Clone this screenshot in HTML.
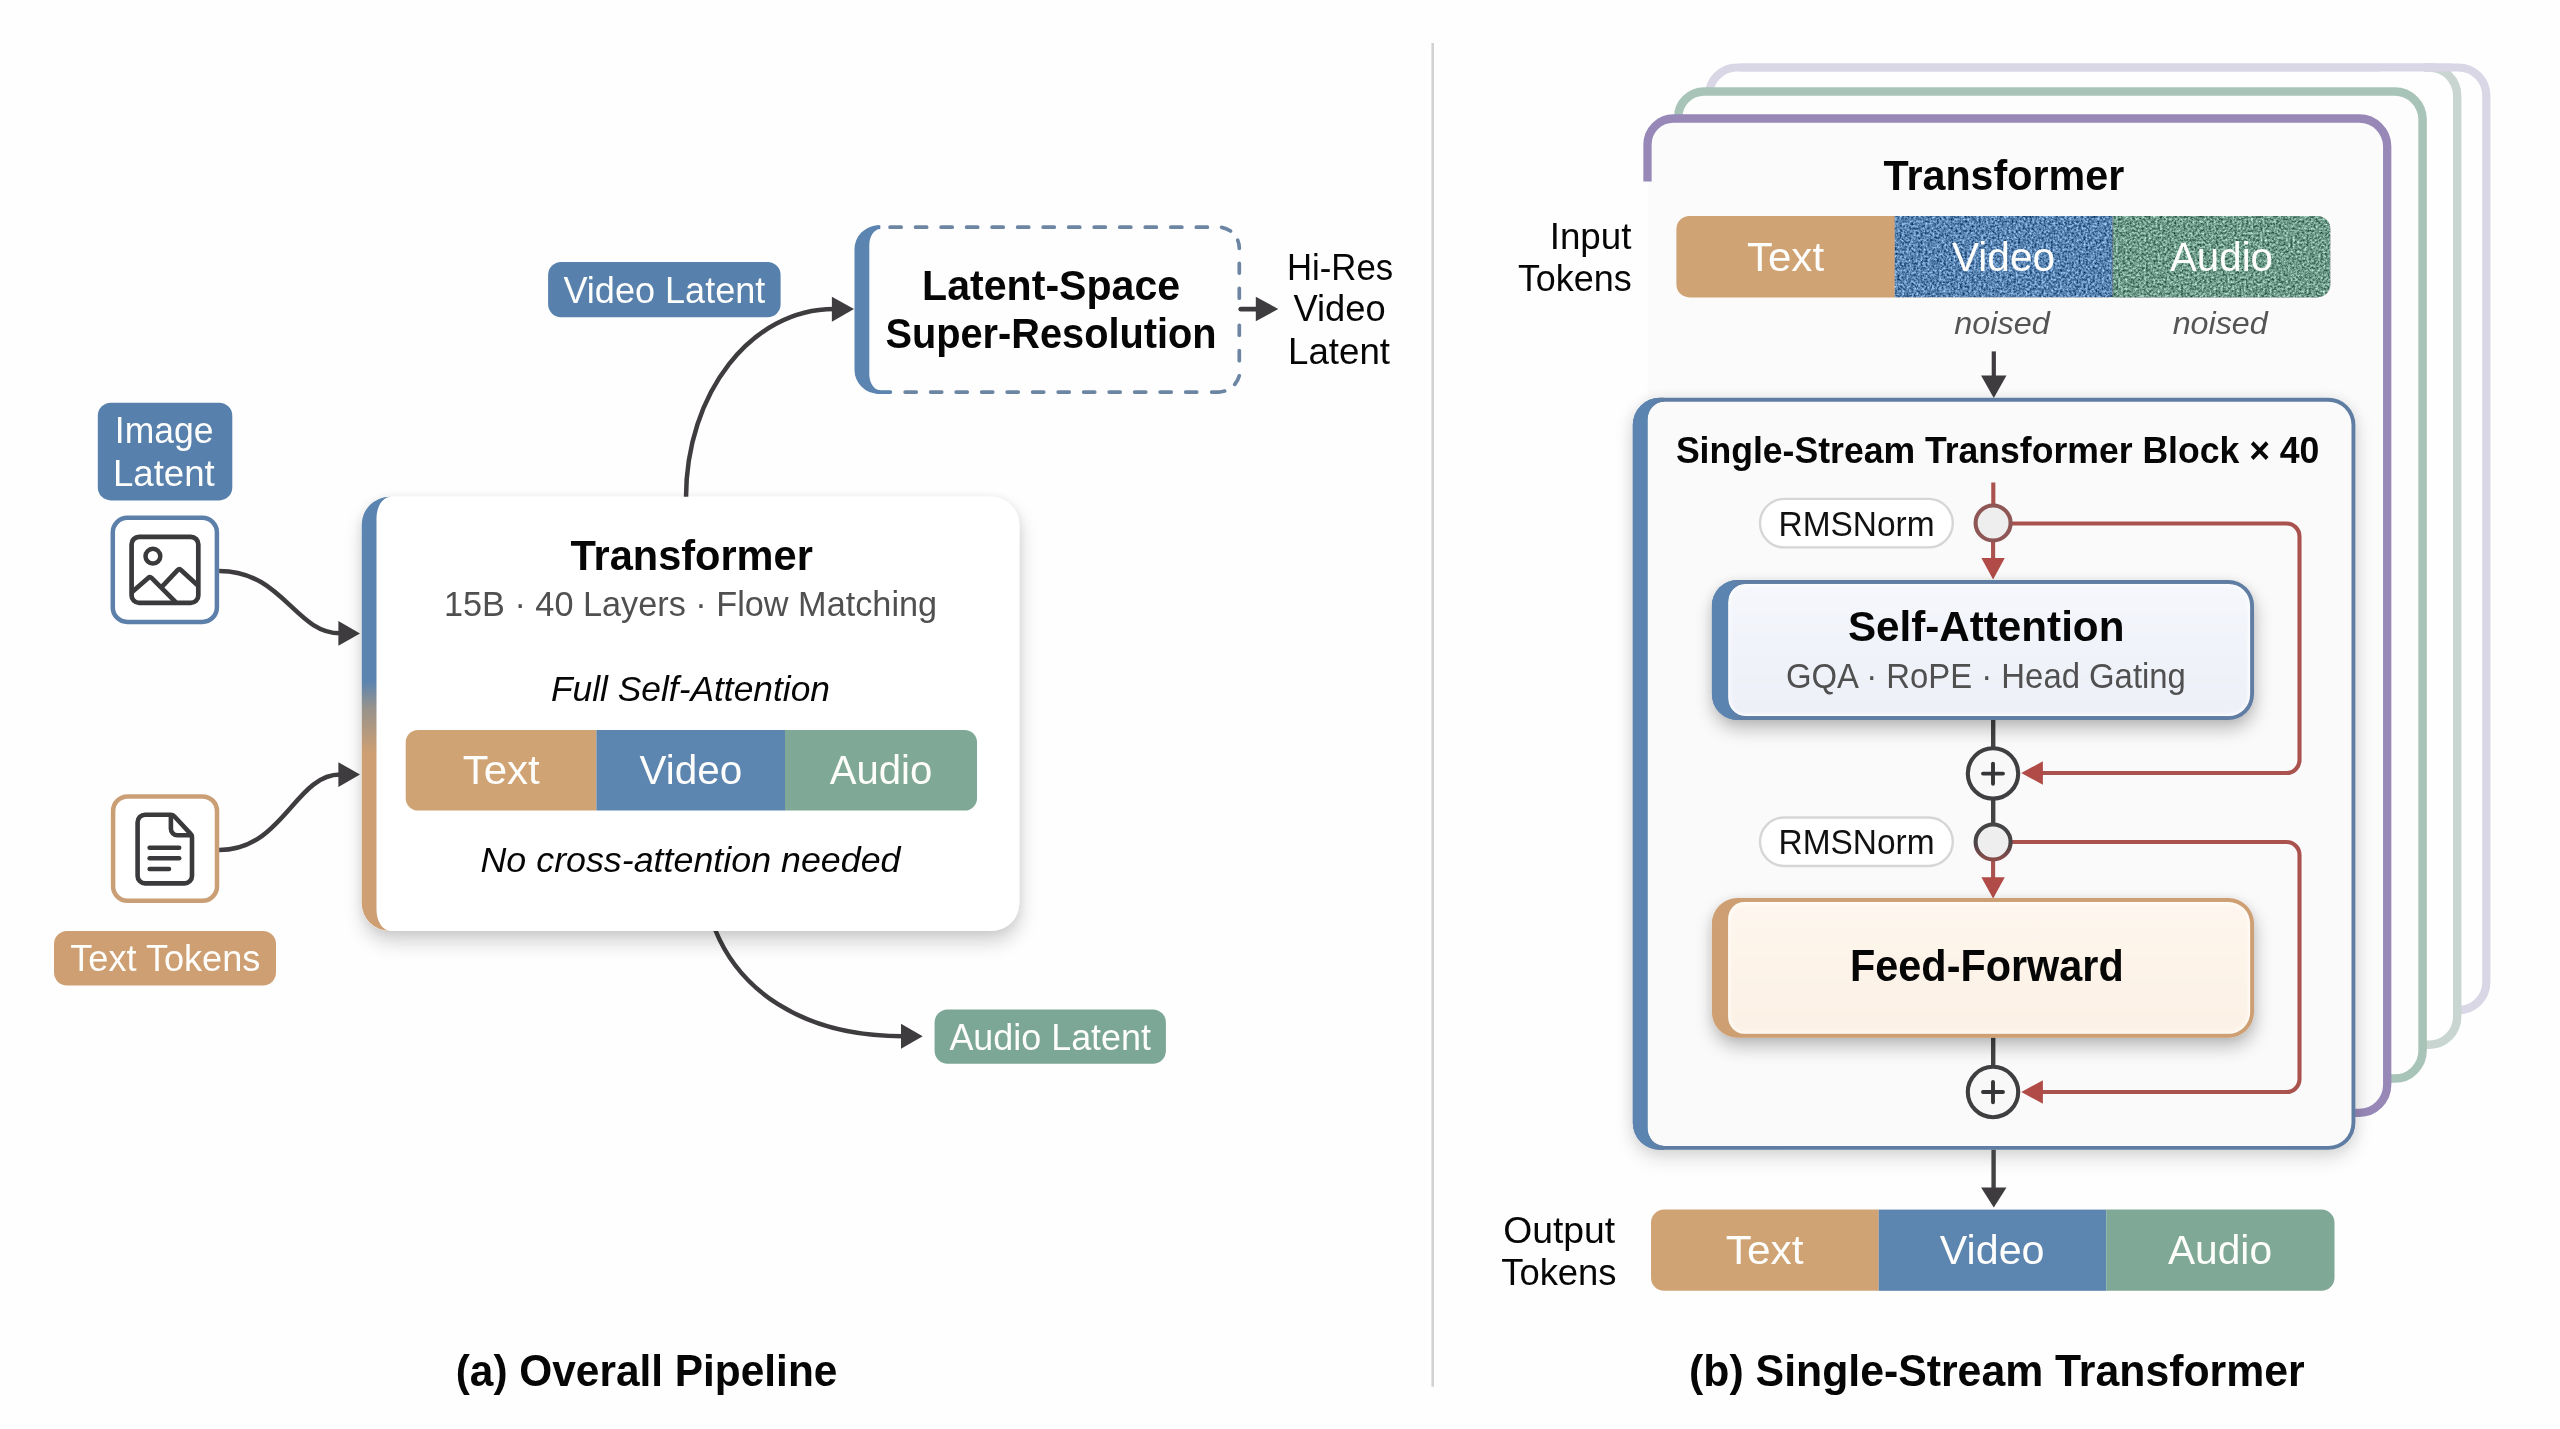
<!DOCTYPE html>
<html lang="en">
<head>
<meta charset="utf-8">
<title>Pipeline and Single-Stream Transformer</title>
<style>
html,body{margin:0;padding:0;background:#fefefe;}
body{width:2560px;height:1429px;overflow:hidden;font-family:"Liberation Sans",sans-serif;}
svg{display:block;position:absolute;left:0;top:0;will-change:transform;}
text{font-family:"Liberation Sans",sans-serif;}
.b{font-weight:bold;}
.i{font-style:italic;}
.w{fill:#fdfdfc;}
.m{text-anchor:middle;}
.e{text-anchor:end;}
</style>
</head>
<body>
<svg width="2560" height="1429" viewBox="0 0 2560 1429">
<defs>
  <linearGradient id="gStrip" x1="0" y1="0" x2="0" y2="1">
    <stop offset="0" stop-color="#5b84b0"/>
    <stop offset="0.425" stop-color="#5b84b0"/>
    <stop offset="0.485" stop-color="#96928d"/>
    <stop offset="0.59" stop-color="#cd9f72"/>
    <stop offset="1" stop-color="#cd9f72"/>
  </linearGradient>
  <linearGradient id="gSA" x1="0" y1="0" x2="0" y2="1">
    <stop offset="0" stop-color="#f6f8fc"/>
    <stop offset="0.3" stop-color="#f2f4fa"/>
    <stop offset="1" stop-color="#edf0f8"/>
  </linearGradient>
  <linearGradient id="gFF" x1="0" y1="0" x2="0" y2="1">
    <stop offset="0" stop-color="#fef7ef"/>
    <stop offset="0.3" stop-color="#fdf4ea"/>
    <stop offset="1" stop-color="#fcf1e5"/>
  </linearGradient>
  <linearGradient id="gStripB" x1="0" y1="0" x2="1" y2="0">
    <stop offset="0" stop-color="#5b84b0"/>
    <stop offset="0.5" stop-color="#5b84b0"/>
    <stop offset="1" stop-color="#5f7da3"/>
  </linearGradient>
  <linearGradient id="gCirc" x1="0" y1="0" x2="0" y2="1">
    <stop offset="0" stop-color="#444446"/>
    <stop offset="0.55" stop-color="#4a4446"/>
    <stop offset="1" stop-color="#8a4d4b"/>
  </linearGradient>
  <filter id="shCard" x="-20%" y="-20%" width="140%" height="150%">
    <feGaussianBlur in="SourceAlpha" stdDeviation="9.5"/>
    <feOffset dx="1" dy="11"/>
    <feComponentTransfer result="s1"><feFuncA type="linear" slope="0.18"/></feComponentTransfer>
    <feGaussianBlur in="SourceAlpha" stdDeviation="5"/>
    <feOffset dx="0" dy="1"/>
    <feComponentTransfer result="s2"><feFuncA type="linear" slope="0.07"/></feComponentTransfer>
    <feMerge><feMergeNode in="s2"/><feMergeNode in="s1"/><feMergeNode in="SourceGraphic"/></feMerge>
  </filter>
  <filter id="shBlock" x="-20%" y="-20%" width="140%" height="150%">
    <feGaussianBlur in="SourceAlpha" stdDeviation="10"/>
    <feOffset dx="0" dy="8"/>
    <feComponentTransfer result="s1"><feFuncA type="linear" slope="0.14"/></feComponentTransfer>
    <feGaussianBlur in="SourceAlpha" stdDeviation="7"/>
    <feOffset dx="0" dy="1"/>
    <feComponentTransfer result="s2"><feFuncA type="linear" slope="0.075"/></feComponentTransfer>
    <feMerge><feMergeNode in="s2"/><feMergeNode in="s1"/><feMergeNode in="SourceGraphic"/></feMerge>
  </filter>
  <filter id="shBox" x="-20%" y="-30%" width="140%" height="190%">
    <feGaussianBlur in="SourceAlpha" stdDeviation="9"/>
    <feOffset dx="1" dy="9"/>
    <feComponentTransfer result="s1"><feFuncA type="linear" slope="0.25"/></feComponentTransfer>
    <feGaussianBlur in="SourceAlpha" stdDeviation="5"/>
    <feOffset dx="0" dy="1"/>
    <feComponentTransfer result="s2"><feFuncA type="linear" slope="0.07"/></feComponentTransfer>
    <feMerge><feMergeNode in="s2"/><feMergeNode in="s1"/><feMergeNode in="SourceGraphic"/></feMerge>
  </filter>
  <filter id="noiseB" x="0" y="0" width="100%" height="100%" color-interpolation-filters="sRGB">
    <feTurbulence type="fractalNoise" baseFrequency="0.43" numOctaves="3" seed="3" result="n"/>
    <feColorMatrix in="n" type="matrix" values="1.35 0 0 0 -0.175  1.35 0 0 0 -0.175  1.35 0 0 0 -0.175  0 0 0 0 1" result="g"/>
    <feGaussianBlur in="g" stdDeviation="0.55" result="g2"/>
    <feComposite in="SourceGraphic" in2="g2" operator="arithmetic" k1="0" k2="1" k3="0.7" k4="-0.35" result="r"/>
    <feComposite in="r" in2="SourceGraphic" operator="in"/>
  </filter>
  <filter id="noiseG" x="0" y="0" width="100%" height="100%" color-interpolation-filters="sRGB">
    <feTurbulence type="fractalNoise" baseFrequency="0.43" numOctaves="3" seed="11" result="n"/>
    <feColorMatrix in="n" type="matrix" values="1.35 0 0 0 -0.175  1.35 0 0 0 -0.175  1.35 0 0 0 -0.175  0 0 0 0 1" result="g"/>
    <feGaussianBlur in="g" stdDeviation="0.55" result="g2"/>
    <feComposite in="SourceGraphic" in2="g2" operator="arithmetic" k1="0" k2="1" k3="0.7" k4="-0.35" result="r"/>
    <feComposite in="r" in2="SourceGraphic" operator="in"/>
  </filter>
  <filter id="soft" x="-5%" y="-10%" width="110%" height="120%"><feGaussianBlur stdDeviation="1.7"/></filter>
</defs>
<rect x="0" y="0" width="2560" height="1429" fill="#fefefe"/>
<rect x="1431.4" y="43" width="2.6" height="1343.7" fill="#d2d2d2"/>
<g id="left">
<rect x="97.8" y="402.8" width="134.5" height="97.6" rx="13" fill="#5781ac"/>
<text x="164.15" y="442.9" font-size="37.21" class="w m" textLength="98.66" lengthAdjust="spacingAndGlyphs">Image</text>
<text x="163.85" y="485.5" font-size="37.21" class="w m" textLength="101.86" lengthAdjust="spacingAndGlyphs">Latent</text>
<rect x="112.8" y="517.8" width="104.1" height="104.1" rx="14.5" fill="#ffffff" stroke="#5c80a9" stroke-width="4.5"/>
<g fill="none" stroke="#3a3a3c" stroke-width="4.7" stroke-linecap="round" stroke-linejoin="round">
  <rect x="131.6" y="536.8" width="66.7" height="66.1" rx="7.5"/>
  <circle cx="152.9" cy="556.2" r="7.4" stroke-width="4.5"/>
  <path d="M132.4 591.8 L148.2 578 Q150 576.4 151.8 578.2 L175.2 601.6"/>
  <path d="M163 585.6 L177.6 570.2 Q179.4 568.4 181.2 570.2 L197.6 585.2"/>
</g>
<rect x="113.1" y="796.4" width="103.9" height="104.4" rx="14.5" fill="#ffffff" stroke="#cb9f76" stroke-width="4.5"/>
<g fill="none" stroke="#3a3a3c" stroke-width="4.6" stroke-linecap="round" stroke-linejoin="round">
  <path d="M145.1 814.8 H170.6 Q172.9 814.8 174.5 816.5 L190.4 833.6 Q192 835.3 192 837.6 V875.9 a7.5 7.5 0 0 1 -7.5 7.5 H145.1 a7.5 7.5 0 0 1 -7.5 -7.5 V822.3 a7.5 7.5 0 0 1 7.5 -7.5 Z"/>
  <path d="M170.9 815.6 V828.8 a6.5 6.5 0 0 0 6.5 6.5 H191.4"/>
  <path d="M149.6 847.8 H179.2" stroke-width="4.5"/>
  <path d="M149.6 858.3 H179.2" stroke-width="4.5"/>
  <path d="M149.6 868.9 H169" stroke-width="4.5"/>
</g>
<rect x="54" y="931" width="222" height="54.6" rx="13" fill="#cd9f72"/>
<text x="165.3" y="971" font-size="37.21" class="w m" textLength="190.16" lengthAdjust="spacingAndGlyphs">Text Tokens</text>
<g fill="none" stroke="#3e3c3e" stroke-width="4.5">
  <path d="M219.2 571 C 283 571 295 633.3 340.2 633.3"/>
  <path d="M219.2 850 C 283 850 295 774.6 340.2 774.6"/>
  <path d="M686 498 C 686 393.2 751.4 309 834 309"/>
  <path d="M715.3 930 C 738.1 986.2 797 1036.2 903 1036.2"/>
  <path d="M1240.8 309.2 H1258" stroke-linecap="round" stroke-width="4.8"/>
</g>
<g fill="#3e3c3e">
  <path d="M338.4 621 L360 633.4 L338.4 645.8 Z"/>
  <path d="M338.4 762.2 L360 774.6 L338.4 787 Z"/>
  <path d="M831.9 296.8 L854 309 L831.9 321.8 Z"/>
  <path d="M901 1023.8 L922.7 1036.2 L901 1048.8 Z"/>
  <path d="M1255.8 296.7 L1278.3 309 L1255.8 321.3 Z"/>
</g>
<g filter="url(#shCard)">
<path d="M389.7 496.8 H991.3 A28 28 0 0 1 1019.3 524.8 V903 A28 28 0 0 1 991.3 931 H389.7 A28 28 0 0 1 361.7 903 V524.8 A28 28 0 0 1 389.7 496.8 Z" fill="#ffffff"/>
</g>
<path d="M390.5 496.8 H389.7 A28 28 0 0 0 361.7 524.8 V903 A28 28 0 0 0 389.7 931 H390.5 V931 H390.5 A14 21.5 0 0 1 376.5 909.5 V518.3 A14 21.5 0 0 1 390.5 496.8 H390.5 Z" fill="url(#gStrip)"/>
<text x="691.62" y="570" font-size="42.88" class="b m" fill="#060606" textLength="242.39" lengthAdjust="spacingAndGlyphs">Transformer</text>
<text x="690.55" y="616.25" font-size="35.97" class="m" fill="#505050" textLength="493.16" lengthAdjust="spacingAndGlyphs">15B · 40 Layers · Flow Matching</text>
<text x="690.5" y="701.25" font-size="34.74" class="i m" fill="#060606" textLength="278.95" lengthAdjust="spacingAndGlyphs">Full Self-Attention</text>
<path d="M418 730 H596.4 V810.5 H418 a12.3 12.3 0 0 1 -12.3 -12.3 V742.3 a12.3 12.3 0 0 1 12.3 -12.3 Z" fill="#cfa373"/>
  <rect x="596.4" y="730" width="188.6" height="80.5" fill="#5c85b0"/>
  <path d="M785 730 H964.7 a12.3 12.3 0 0 1 12.3 12.3 V798.2 a12.3 12.3 0 0 1 -12.3 12.3 H785 Z" fill="#80a897"/>
<text x="501.25" y="783.5" font-size="39.97" class="w m" textLength="77.1" lengthAdjust="spacingAndGlyphs">Text</text>
<text x="690.92" y="783.5" font-size="39.97" class="w m" textLength="102.75" lengthAdjust="spacingAndGlyphs">Video</text>
<text x="880.95" y="783.5" font-size="39.97" class="w m" textLength="102.5" lengthAdjust="spacingAndGlyphs">Audio</text>
<text x="690.5" y="872.4" font-size="34.74" class="i m" fill="#060606" textLength="419.95" lengthAdjust="spacingAndGlyphs">No cross-attention needed</text>
<rect x="548.1" y="261.9" width="232.5" height="55.4" rx="13" fill="#5781ac"/>
<text x="664.38" y="302.5" font-size="37.21" class="w m" textLength="201.91" lengthAdjust="spacingAndGlyphs">Video Latent</text>
<path d="M880.3 225.3 H878.5 A24 24 0 0 0 854.5 249.3 V369.9 A24 24 0 0 0 878.5 393.9 H880.3 V390.2 H880.3 A11 16 0 0 1 869.3 374.2 V245 A11 16 0 0 1 880.3 229 H880.3 Z" fill="#5b84b0"/>
<path d="M877.5 227.15 H877.9 M877.5 392.05 H890.4" stroke="#5b84b0" stroke-width="3.7" stroke-linecap="round" fill="none"/>
<path d="M890.05 227.15 h11.1 M915.57 227.15 h11.1 M941.09 227.15 h11.1 M966.61 227.15 h11.1 M992.13 227.15 h11.1 M1017.65 227.15 h11.1 M1043.17 227.15 h11.1 M1068.69 227.15 h11.1 M1094.21 227.15 h11.1 M1119.73 227.15 h11.1 M1145.25 227.15 h11.1 M1170.77 227.15 h11.1 M1196.29 227.15 h11.1 M905.15 392.05 h11.1 M930.65 392.05 h11.1 M956.15 392.05 h11.1 M981.65 392.05 h11.1 M1007.15 392.05 h11.1 M1032.65 392.05 h11.1 M1058.15 392.05 h11.1 M1083.65 392.05 h11.1 M1109.15 392.05 h11.1 M1134.65 392.05 h11.1 M1160.15 392.05 h11.1 M1185.65 392.05 h11.1 M1221.6 227.4 A21 21 0 0 1 1230.5 231 M1237.7 240.1 A21 21 0 0 1 1239.3 248.4 M1239.3 263.45 V273.05 M1239.3 288.45 V298.25 M1239.3 325.25 V335.25 M1239.3 350.55 V360.75 M1239.3 375.8 A21 21 0 0 1 1234.7 384.4 M1211.7 392.05 H1218.3 A21 21 0 0 0 1224.6 391.1" fill="none" stroke="#6c85a3" stroke-width="3.7" stroke-linecap="round"/>
<text x="1051.15" y="299.9" font-size="41.86" class="b m" fill="#060606" textLength="258.06" lengthAdjust="spacingAndGlyphs">Latent-Space</text>
<text x="1051" y="347.7" font-size="41.86" class="b m" fill="#060606" textLength="330.96" lengthAdjust="spacingAndGlyphs">Super-Resolution</text>
<text x="1340.05" y="279.7" font-size="36.34" class="m" fill="#060606" textLength="105.99" lengthAdjust="spacingAndGlyphs">Hi-Res</text>
<text x="1339.55" y="321.4" font-size="36.34" class="m" fill="#060606" textLength="92.19" lengthAdjust="spacingAndGlyphs">Video</text>
<text x="1339.05" y="363.9" font-size="36.34" class="m" fill="#060606" textLength="101.99" lengthAdjust="spacingAndGlyphs">Latent</text>
<rect x="934.6" y="1009.4" width="231.3" height="54.4" rx="13" fill="#7ca696"/>
<text x="1050.2" y="1049.5" font-size="37.21" class="w m" textLength="201.56" lengthAdjust="spacingAndGlyphs">Audio Latent</text>
<text x="646.55" y="1385.8" font-size="44.33" class="b m" fill="#060606" textLength="381.67" lengthAdjust="spacingAndGlyphs">(a) Overall Pipeline</text>
</g>
<g id="right">
<rect x="1709" y="67.5" width="777.3" height="942.7" rx="28" fill="#fefefe" stroke="#d9d6e5" stroke-width="8.2"/>
<path d="M2380 67.5 H2429.2 a28 28 0 0 1 28 28 V1016.7 a28 28 0 0 1 -28 28 H2380 Z" fill="#fefefe"/>
<path d="M2424 67.5 H2429.2 a28 28 0 0 1 28 28 V1016.7 a28 28 0 0 1 -28 28 H2400" fill="none" stroke="#c8d5d0" stroke-width="8.4"/>
<path d="M1740 67.5 H2452" fill="none" stroke="#d9d6e5" stroke-width="8.2"/>
<path d="M1678.2 117.5 a26 26 0 0 1 26 -26 H2394.6 a28 28 0 0 1 28 28 V1050.6 a28 28 0 0 1 -28 28 H1704.2 a26 26 0 0 1 -26 -26 Z" fill="#fdfdfd" stroke="#a8c3b7" stroke-width="8.5"/>
<path d="M1647.5 181.6 V144.5 a26 26 0 0 1 26 -26 H2359.2 a28 28 0 0 1 28 28 V1084.8 a28 28 0 0 1 -28 28 H1647.5 Z" fill="#fbfbfb"/>
<path d="M1647.5 181.6 V144.5 a26 26 0 0 1 26 -26 H2359.2 a28 28 0 0 1 28 28 V1084.8 a28 28 0 0 1 -28 28 H2340" fill="none" stroke="#9788b8" stroke-width="8.3"/>
<text x="2003.85" y="189.8" font-size="42.88" class="b m" fill="#060606" textLength="240.74" lengthAdjust="spacingAndGlyphs">Transformer</text>
<text x="1590.55" y="249" font-size="37.79" class="m" fill="#060606" textLength="81.71" lengthAdjust="spacingAndGlyphs">Input</text>
<text x="1574.85" y="291.1" font-size="37.79" class="m" fill="#060606" textLength="113.91" lengthAdjust="spacingAndGlyphs">Tokens</text>
<path d="M1689.4 216 H1894.6 V297.4 H1689.4 a13 13 0 0 1 -13 -13 V229 a13 13 0 0 1 13 -13 Z" fill="#cfa373"/>
  <rect x="1894.6" y="216" width="218.1" height="81.4" fill="#5882b0" filter="url(#noiseB)"/>
  <path d="M2112.7 216 H2317.4 a13 13 0 0 1 13 13 V284.4 a13 13 0 0 1 -13 13 H2112.7 Z" fill="#6d9a89" filter="url(#noiseG)"/>
<text x="1785.5" y="270.6" font-size="39.97" class="w m" textLength="77.2" lengthAdjust="spacingAndGlyphs">Text</text>
<text x="2003.5" y="270.6" font-size="39.97" class="w m" textLength="103.2" lengthAdjust="spacingAndGlyphs">Video</text>
<text x="2221.5" y="270.6" font-size="39.97" class="w m" textLength="103" lengthAdjust="spacingAndGlyphs">Audio</text>
<text x="2002" y="333.9" font-size="31.25" class="i m" fill="#555555" textLength="95.46" lengthAdjust="spacingAndGlyphs">noised</text>
<text x="2220.15" y="333.9" font-size="31.25" class="i m" fill="#555555" textLength="94.96" lengthAdjust="spacingAndGlyphs">noised</text>
<path d="M1993.8 351.4 V377" stroke="#3e3c3e" stroke-width="4.2" fill="none"/>
<path d="M1981.1 375.4 H2006.5 L1993.8 398 Z" fill="#3e3c3e"/>
<g filter="url(#shBlock)">
<path d="M1659.8 397.8 H2328.4 A27 27 0 0 1 2355.4 424.8 V1122.8 A27 27 0 0 1 2328.4 1149.8 H1659.8 A27 27 0 0 1 1632.8 1122.8 V424.8 A27 27 0 0 1 1659.8 397.8 Z" fill="#5f7da3"/>
</g>
<path d="M1664 401.7 H2328.4 A23.1 23.1 0 0 1 2351.5 424.8 V1122.8 A23.1 23.1 0 0 1 2328.4 1145.9 H1664 A16.5 18 0 0 1 1647.5 1127.9 V419.7 A16.5 18 0 0 1 1664 401.7 Z" fill="#fafafa"/>
<path d="M1664 397.8 H1659.8 A27 27 0 0 0 1632.8 424.8 V1122.8 A27 27 0 0 0 1659.8 1149.8 H1664 V1145.9 H1664 A16.5 18 0 0 1 1647.5 1127.9 V419.7 A16.5 18 0 0 1 1664 401.7 H1664 Z" fill="url(#gStripB)"/>
<text x="1997.65" y="463.1" font-size="37.65" class="b m" fill="#060606" textLength="643.5" lengthAdjust="spacingAndGlyphs">Single-Stream Transformer Block × 40</text>
<g fill="none" stroke="#a9524e" stroke-width="4.1">
  <path d="M1993.3 482.5 V505"/>
  <path d="M1993.1 541 V560"/>
  <path d="M2011 523.5 H2286.5 a13 13 0 0 1 13 13 V760 a13 13 0 0 1 -13 13 H2041"/>
  <path d="M1993.1 860.5 V879"/>
  <path d="M2011 842 H2286.5 a13 13 0 0 1 13 13 V1079 a13 13 0 0 1 -13 13 H2041"/>
</g>
<g fill="#b04b47">
  <path d="M1981.4 558.1 H2004.8 L1993.1 579.6 Z"/>
  <path d="M1981.4 877.2 H2004.8 L1993.1 898.4 Z"/>
  <path d="M2042.9 761.3 V784.8 L2021.3 773 Z"/>
  <path d="M2042.9 1080.3 V1103.8 L2021.3 1092 Z"/>
</g>
<g fill="none" stroke="#434345" stroke-width="4.4">
  <path d="M1993.2 720 V748"/>
  <path d="M1993.2 799 V825"/>
  <path d="M1993.2 1037.5 V1066"/>
  <path d="M1993.6 1149.8 V1189"/>
</g>
<path d="M1981.1 1187.5 H2006.5 L1993.8 1207.5 Z" fill="#3e3c3e"/>
<rect x="1760" y="498.9" width="192.8" height="48.5" rx="24.25" fill="#ffffff" stroke="#d6d6d6" stroke-width="2.4"/>
<text x="1856.55" y="535.6" font-size="34.52" class="m" fill="#111111" textLength="156.03" lengthAdjust="spacingAndGlyphs">RMSNorm</text>
<rect x="1760" y="817.5" width="192.8" height="48.5" rx="24.25" fill="#ffffff" stroke="#d6d6d6" stroke-width="2.4"/>
<text x="1856.55" y="854.2" font-size="34.52" class="m" fill="#111111" textLength="156.03" lengthAdjust="spacingAndGlyphs">RMSNorm</text>
<circle cx="1993.1" cy="523" r="17.5" fill="#eeeeee" stroke="#8e5755" stroke-width="4.1"/>
<circle cx="1993.1" cy="842" r="17.5" fill="#eeeeee" stroke="url(#gCirc)" stroke-width="4.1"/>
<g filter="url(#shBox)">
<path d="M1737.4 580 H2228.5 A25.5 25.5 0 0 1 2254 605.5 V694.5 A25.5 25.5 0 0 1 2228.5 720 H1737.4 A25.5 25.5 0 0 1 1711.9 694.5 V605.5 A25.5 25.5 0 0 1 1737.4 580 Z" fill="#5f7da3"/>
</g>
<path d="M1745.1 583.9 H2228.5 A21.6 21.6 0 0 1 2250.1 605.5 V694.5 A21.6 21.6 0 0 1 2228.5 716.1 H1745.1 A17 18 0 0 1 1728.1 698.1 V601.9 A17 18 0 0 1 1745.1 583.9 Z" fill="#fbfcfe"/>
<path d="M1745.3 586.1 H2228.9 A19 19 0 0 1 2247.9 605.1 V694.9 A19 19 0 0 1 2228.9 713.9 H1745.3 A15 16 0 0 1 1730.3 697.9 V602.1 A15 16 0 0 1 1745.3 586.1 Z" fill="url(#gSA)" filter="url(#soft)"/>
<path d="M1745.1 580 H1737.4 A25.5 25.5 0 0 0 1711.9 605.5 V694.5 A25.5 25.5 0 0 0 1737.4 720 H1745.1 V716.1 H1745.1 A17 18 0 0 1 1728.1 698.1 V601.9 A17 18 0 0 1 1745.1 583.9 H1745.1 Z" fill="url(#gStripB)"/>
<text x="1986.15" y="640.9" font-size="42.88" class="b m" fill="#060606" textLength="276.54" lengthAdjust="spacingAndGlyphs">Self-Attention</text>
<text x="1985.9" y="687.7" font-size="35.32" class="m" fill="#505050" textLength="400" lengthAdjust="spacingAndGlyphs">GQA · RoPE · Head Gating</text>
<g fill="#f8f8f8" stroke="#3f3f41" stroke-width="4.1">
  <circle cx="1993" cy="773.4" r="25.2"/>
  <circle cx="1993" cy="1092" r="25.2"/>
</g>
<g fill="none" stroke="#363638" stroke-width="3.9" stroke-linecap="round">
  <path d="M1983 773.6 H2003 M1993 763.6 V783.8"/>
  <path d="M1983 1092 H2003 M1993 1082 V1102.2"/>
</g>
<g filter="url(#shBox)">
<path d="M1737.4 898.1 H2228.5 A25.5 25.5 0 0 1 2254 923.6 V1012.2 A25.5 25.5 0 0 1 2228.5 1037.7 H1737.4 A25.5 25.5 0 0 1 1711.9 1012.2 V923.6 A25.5 25.5 0 0 1 1737.4 898.1 Z" fill="#cd9f72"/>
</g>
<path d="M1744.1 902 H2228.5 A21.6 21.6 0 0 1 2250.1 923.6 V1012.2 A21.6 21.6 0 0 1 2228.5 1033.8 H1744.1 A16 17 0 0 1 1728.1 1016.8 V919 A16 17 0 0 1 1744.1 902 Z" fill="#fffbf6"/>
<path d="M1744.3 904.2 H2228.9 A19 19 0 0 1 2247.9 923.2 V1012.6 A19 19 0 0 1 2228.9 1031.6 H1744.3 A14 15 0 0 1 1730.3 1016.6 V919.2 A14 15 0 0 1 1744.3 904.2 Z" fill="url(#gFF)" filter="url(#soft)"/>
<text x="1986.9" y="981.25" font-size="43.6" class="b m" fill="#060606" textLength="273.71" lengthAdjust="spacingAndGlyphs">Feed-Forward</text>
<text x="1559.25" y="1242.7" font-size="37.5" class="m" fill="#060606" textLength="111.89" lengthAdjust="spacingAndGlyphs">Output</text>
<text x="1558.85" y="1284.8" font-size="37.5" class="m" fill="#060606" textLength="115.29" lengthAdjust="spacingAndGlyphs">Tokens</text>
<path d="M1664 1209.6 H1878.7 V1290.8 H1664 a13 13 0 0 1 -13 -13 V1222.6 a13 13 0 0 1 13 -13 Z" fill="#cfa373"/>
  <rect x="1878.7" y="1209.6" width="227.5" height="81.2" fill="#5c85b0"/>
  <path d="M2106.2 1209.6 H2321.5 a13 13 0 0 1 13 13 V1277.8 a13 13 0 0 1 -13 13 H2106.2 Z" fill="#80a897"/>
<text x="1764.7" y="1264.1" font-size="40.41" class="w m" textLength="77.83" lengthAdjust="spacingAndGlyphs">Text</text>
<text x="1992.2" y="1264.1" font-size="40.41" class="w m" textLength="104.63" lengthAdjust="spacingAndGlyphs">Video</text>
<text x="2220" y="1264.1" font-size="40.41" class="w m" textLength="104.03" lengthAdjust="spacingAndGlyphs">Audio</text>
<text x="1996.9" y="1386" font-size="44.33" class="b m" fill="#060606" textLength="615.57" lengthAdjust="spacingAndGlyphs">(b) Single-Stream Transformer</text>
</g>
</svg>
</body>
</html>
